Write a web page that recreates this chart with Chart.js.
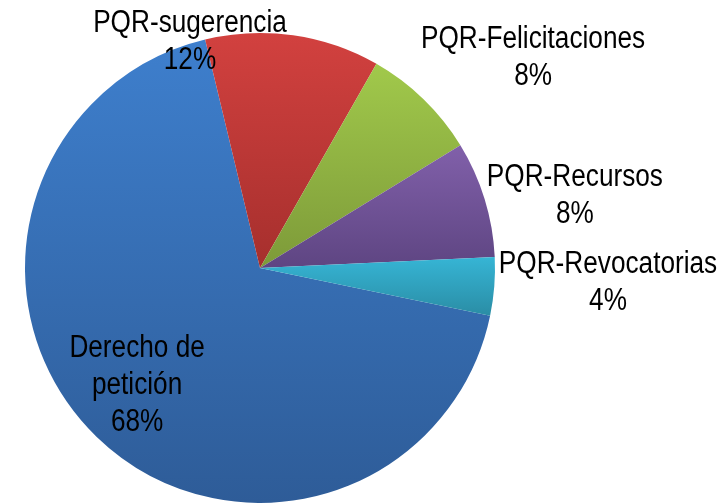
<!DOCTYPE html>
<html>
<head>
  <meta charset="utf-8">
  <title>PQR</title>
  <script src="https://cdn.jsdelivr.net/npm/chart.js"></script>
  <style>
    body { margin: 0; background: #fff; }
    #wrap { width: 725px; height: 504px; }
  </style>
</head>
<body>
  <div id="wrap"><canvas id="pqrChart"></canvas></div>

  <script>
    const categories = ['Derecho de petición', 'PQR-sugerencia', 'PQR-Felicitaciones', 'PQR-Recursos', 'PQR-Revocatorias'];
    const percents = [68, 12, 8, 8, 4];
    // label text lines (as printed on the chart)
    const labelLines = [
      ['Derecho de', 'petición', '68%'],
      ['PQR-sugerencia', '12%'],
      ['PQR-Felicitaciones', '8%'],
      ['PQR-Recursos', '8%'],
      ['PQR-Revocatorias', '4%']
    ];

    // light (top) / dark (bottom) colour for each slice
    const topColors = ['#3e7fcd', '#d2413f', '#a1c94b', '#8160aa', '#36b5d5'];
    const bottomColors = ['#2e5c98', '#a62f2d', '#7d9a39', '#5e4582', '#2a8da5'];

    // label block centre, in units of pie radius from the pie centre
    const labelPos = [[-0.523, 0.50], [-0.298, -0.962], [1.162, -0.894], [1.34, -0.306], [1.481, 0.064]];

    const gradientFill = {
      id: 'gradientFill',
      beforeDatasetsDraw(chart) {
        const ctx = chart.ctx;
        chart.getDatasetMeta(0).data.forEach((arc, i) => {
          const r = arc.outerRadius;
          let a0 = arc.startAngle, a1 = arc.endAngle;
          let ys = [arc.y, arc.y + r * Math.sin(a0), arc.y + r * Math.sin(a1)];
          const within = (a) => {
            let t = a;
            while (t < a0) t += Math.PI * 2;
            return t <= a1;
          };
          if (within(-Math.PI / 2)) ys.push(arc.y - r);
          if (within(Math.PI / 2)) ys.push(arc.y + r);
          const g = ctx.createLinearGradient(0, Math.min(...ys), 0, Math.max(...ys));
          g.addColorStop(0, topColors[i]);
          g.addColorStop(1, bottomColors[i]);
          arc.options.backgroundColor = g;
        });
      }
    };

    const sliceLabels = {
      id: 'sliceLabels',
      afterDatasetsDraw(chart) {
        const ctx = chart.ctx;
        const arc0 = chart.getDatasetMeta(0).data[0];
        const cx = arc0.x, cy = arc0.y, r = arc0.outerRadius;
        const lh = 37;
        ctx.save();
        ctx.fillStyle = '#000';
        ctx.font = '31px "Liberation Sans", Arial, sans-serif';
        ctx.textAlign = 'center';
        ctx.textBaseline = 'middle';
        labelLines.forEach((lines, i) => {
          const x = cx + labelPos[i][0] * r;
          const y = cy + labelPos[i][1] * r;
          const y0 = y - (lines.length - 1) * lh / 2;
          lines.forEach((t, k) => {
            ctx.save();
            ctx.translate(x, y0 + k * lh);
            ctx.scale(0.845, 1);
            ctx.fillText(t, 0, 0);
            ctx.restore();
          });
        });
        ctx.restore();
      }
    };

    new Chart(document.getElementById('pqrChart'), {
      type: 'pie',
      data: {
        labels: categories,
        datasets: [{
          data: percents,
          backgroundColor: topColors,
          borderWidth: 0
        }]
      },
      options: {
        responsive: true,
        maintainAspectRatio: false,
        animation: false,
        rotation: 101.7,
        layout: { padding: { top: 33, bottom: 1, left: 25, right: 230 } },
        plugins: {
          legend: { display: false },
          tooltip: { enabled: false }
        }
      },
      plugins: [gradientFill, sliceLabels]
    });
  </script>
</body>
</html>
